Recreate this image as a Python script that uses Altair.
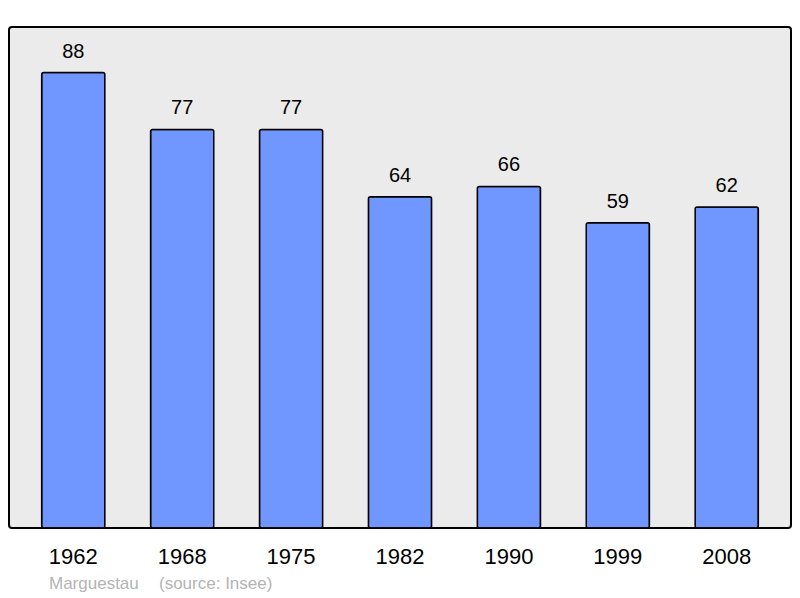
import altair as alt
import pandas as pd

years = ["1962", "1968", "1975", "1982", "1990", "1999", "2008"]
population = [88, 77, 77, 64, 66, 59, 62]
footer_name = "Marguestau"
footer_source = "(source: Insee)"

df = pd.DataFrame({"year": years, "pop": population})

FONT = "Liberation Sans"

x = alt.X("year:N", sort=years, title=None,
          scale=alt.Scale(paddingInner=0.42, paddingOuter=0.3),
          axis=alt.Axis(labelAngle=0, labelFontSize=22, labelFont=FONT,
                        labelColor="black", domain=False, ticks=False,
                        labelPadding=18))
y = alt.Y("pop:Q", title=None, scale=alt.Scale(domain=[0, 96.8], nice=False),
          axis=None)

bars = alt.Chart(df).mark_bar(
    color="#7096ff", stroke="black", strokeWidth=1.5, cornerRadius=2
).encode(x=x, y=y)

labels = alt.Chart(df).mark_text(
    dy=-21, fontSize=20, font=FONT, color="black", baseline="middle"
).encode(x=x, y=y, text="pop:Q")

foot = alt.Chart(pd.DataFrame({"t": [footer_name]})).mark_text(
    fontSize=17, font=FONT, color="#b4b4b4", align="left", baseline="middle"
).encode(x=alt.value(40), y=alt.value(557), text="t:N")

foot2 = alt.Chart(pd.DataFrame({"t": [footer_source]})).mark_text(
    fontSize=17, font=FONT, color="#b4b4b4", align="left", baseline="middle"
).encode(x=alt.value(150), y=alt.value(557), text="t:N")

chart = alt.layer(bars, labels, foot, foot2).properties(
    width=782, height=501,
    autosize=alt.AutoSizeParams(type="none"),
    padding={"left": 1, "top": 19, "right": 1, "bottom": 68},
).configure_view(
    fill="#ebebeb", stroke="black", strokeWidth=2, cornerRadius=3
)

chart.save("out.html", embed_options={"renderer": "svg", "actions": False})
